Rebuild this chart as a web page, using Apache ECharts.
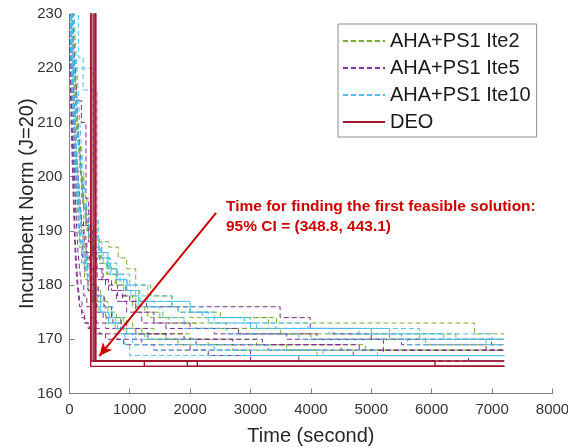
<!DOCTYPE html>
<html>
<head>
<meta charset="utf-8">
<script src="https://cdn.jsdelivr.net/npm/echarts@6/dist/echarts.min.js"></script>
<style>
html,body{margin:0;padding:0;background:#fff;}
#chart{width:568px;height:447px;}
</style>
</head>
<body>
<div id="chart"></div>
<script>
// ---- data (time in seconds, incumbent norm), step functions ----
const seriesNames = ['AHA+PS1 Ite2', 'AHA+PS1 Ite5', 'AHA+PS1 Ite10', 'DEO'];

const ite2Runs = [
  [[0,240],[40,228],[70,220],[100,213],[130,207],[165,201],[200,196],[240,192],[290,190],[360,189],[480,188],[650,187],[810,185],[950,183],[1100,180],[1350,178],[1700,176],[2000,174],[3430,173],[6710,171],[7200,171]],
  [[0,240],[60,226],[90,219],[120,212],[150,206],[185,200],[220,195],[265,191],[320,188],[400,186],[500,184],[620,182],[760,180],[900,178],[1050,176],[1250,175],[1550,174],[1900,173],[2600,172],[3500,171],[5300,170],[7200,170]],
  [[0,240],[20,226],[45,218],[70,211],[95,205],[125,199],[155,194],[190,190],[230,187],[280,184],[340,181],[420,179],[520,177],[640,175],[780,174],[950,172],[1200,171],[1600,170],[2300,169],[3600,168],[7200,168]],
  [[0,240],[80,225],[110,218],[140,211],[170,205],[200,200],[240,196],[290,193],[350,190],[430,187],[530,185],[660,183],[800,181],[950,179],[1150,177],[1400,176],[1800,175],[2500,174],[3300,172],[5000,171],[6400,170],[7200,170]],
  [[0,240],[30,222],[55,215],[80,209],[105,203],[135,198],[165,193],[200,189],[245,186],[300,183],[370,180],[460,178],[570,176],[700,174],[850,173],[1050,172],[1400,171],[2000,170],[3100,169],[4900,168],[7200,168]],
  [[0,240],[50,229],[75,222],[100,215],[130,209],[160,204],[195,199],[235,195],[280,191],[340,188],[420,186],[520,184],[640,182],[780,180],[930,178],[1100,176],[1300,174],[1650,173],[2100,172],[2800,171],[4000,170],[5900,169],[7200,169]],
  [[0,240],[10,224],[30,216],[50,209],[75,202],[100,196],[130,191],[165,187],[205,184],[250,181],[310,179],[390,177],[490,175],[610,173],[760,172],[950,171],[1250,170],[1800,169],[2700,168],[4100,167],[7200,167]]
];

const ite5Runs = [
  [[0,240],[30,228],[50,222],[70,217],[90,212],[110,207],[130,203],[155,199],[180,195],[210,191],[245,188],[290,185],[360,183],[460,181],[600,180],[800,178],[1000,177],[1280,176],[3490,174],[3990,172],[4370,171],[5000,170],[6990,169],[7200,169]],
  [[0,240],[10,226],[25,219],[40,212],[55,205],[70,199],[85,193],[100,188],[120,184],[145,180],[175,177],[210,175],[250,173],[310,172],[500,171],[800,170],[1200,169],[2000,168],[3000,166],[7200,166]],
  [[0,240],[20,229],[40,223],[60,218],[80,213],[100,208],[120,204],[145,200],[170,196],[200,192],[235,189],[275,186],[330,183],[400,180],[480,178],[580,176],[700,174],[860,172],[1100,171],[1600,170],[2700,169],[4500,168],[7200,168]],
  [[0,240],[40,230],[60,225],[80,221],[100,218],[130,214],[200,210],[276,196],[320,190],[380,186],[450,183],[540,181],[650,179],[780,177],[950,175],[1200,173],[1600,172],[2400,171],[3600,170],[5200,167],[6610,166],[7200,166]],
  [[0,240],[15,228],[30,222],[45,216],[60,210],[75,204],[90,199],[105,194],[125,190],[145,186],[170,183],[200,180],[240,178],[290,176],[360,174],[450,173],[600,172],[900,171],[1300,170],[2100,169],[3300,168],[4700,167],[7200,167]],
  [[0,240],[60,228],[80,223],[100,219],[120,214],[140,210],[165,206],[190,202],[215,198],[245,194],[280,191],[320,188],[380,185],[460,183],[560,181],[700,179],[880,177],[1100,175],[1400,173],[2000,172],[2800,171],[4100,170],[5500,169],[6900,168],[7200,168]],
  [[0,240],[5,222],[20,215],[35,208],[50,202],[65,196],[80,191],[95,186],[115,182],[140,179],[170,176],[205,174],[260,173],[330,172],[420,171],[600,170],[900,169],[1400,168],[2300,167],[3800,166],[7200,166]],
  [[0,240],[25,224],[45,218],[65,212],[85,206],[105,201],[130,196],[155,192],[185,188],[220,185],[260,182],[310,179],[370,177],[450,175],[560,174],[720,173],[950,172],[1300,171],[1900,170],[3200,169],[4800,168],[7200,168]]
];

const ite10Runs = [
  [[0,240],[25,229],[45,224],[65,219],[85,214],[105,209],[125,204],[150,199],[175,195],[200,191],[230,187],[270,184],[330,181],[420,178],[520,175],[650,173],[800,171],[920,169],[1000,167],[7200,167]],
  [[0,240],[40,230],[60,226],[80,221],[100,217],[125,212],[150,207],[175,203],[200,200],[230,196],[260,193],[300,190],[360,188],[440,186],[560,184],[700,182],[900,180],[1100,177],[2000,175],[2400,173],[3420,172],[4800,171],[6200,170],[7200,170]],
  [[0,240],[60,220],[394,200],[430,192],[480,187],[520,186],[640,183],[800,181],[950,179],[1170,177],[2000,175],[2300,174],[3000,172],[5300,171],[7000,170],[7200,170]],
  [[0,240],[20,228],[35,223],[55,217],[75,212],[95,207],[115,202],[135,197],[160,193],[185,189],[215,186],[250,183],[300,180],[370,178],[470,176],[600,174],[760,172],[950,171],[1300,170],[2100,169],[3300,168],[5100,167],[7200,167]],
  [[0,240],[50,227],[70,223],[90,219],[110,215],[135,210],[160,206],[185,202],[210,199],[240,195],[275,192],[320,189],[380,187],[480,185],[620,183],[780,181],[960,179],[1150,176],[1500,174],[1900,172],[2600,171],[3800,170],[5600,169],[7200,169]],
  [[0,240],[15,226],[30,220],[50,214],[70,208],[90,203],[110,198],[135,194],[160,190],[190,187],[230,184],[280,182],[350,180],[440,178],[560,176],[720,174],[900,172],[1100,170],[1500,169],[2400,168],[4200,167],[7200,167]],
  [[0,240],[80,230],[100,225],[120,221],[140,217],[160,213],[180,209],[205,205],[230,201],[260,197],[290,194],[330,191],[400,189],[500,186],[640,184],[790,182],[1000,180],[1300,178],[1700,176],[2200,174],[2900,173],[3950,172],[5800,170],[6900,169],[7200,169]],
  [[0,240],[35,225],[55,219],[75,213],[95,208],[120,203],[145,198],[170,194],[200,190],[235,186],[280,183],[340,180],[420,177],[520,175],[660,173],[850,171],[1050,169],[1400,168],[2900,167],[7200,167]],
  [[0,240],[150,222],[228,216],[460,188],[540,185],[680,182],[840,180],[1020,178],[1300,176],[1800,175],[2300,173],[3100,172],[4300,171],[5500,170],[7200,170]]
];

const deoRuns = [
  [[354,240],[354,165],[7200,165]],
  [[361,240],[361,166],[1243,165],[7200,165]],
  [[395,240],[395,166],[7200,166]],
  [[425,240],[425,166],[1954,165],[7200,165]],
  [[432,240],[432,166],[2119,165],[7200,165]],
  [[440,240],[440,166],[6055,165],[7200,165]]
];

// annotation arrow (data coordinates) and text
const arrowFrom = [2430, 193.3];
const arrowTo = [497, 166.9];
const noteLines = ['Time for finding the first feasible solution:', '95% CI = (348.8, 443.1)'];

const colors = ['#77AC30', '#7E2F8E', '#4DBEEE', '#A2142F'];

// ---- build options ----
const series = [];
function addRuns(runs, name, color, dashed, width) {
  runs.forEach(function (run) {
    series.push({
      type: 'line',
      name: name,
      data: run,
      step: 'end',
      symbol: 'none',
      legendIcon: 'none',
      silent: true,
      clip: true,
      lineStyle: { color: color, width: width, type: dashed ? [5, 3] : 'solid' },
      itemStyle: { color: color },
      z: dashed ? 2 : 3
    });
  });
}
addRuns(ite2Runs, seriesNames[0], colors[0], true, 1);
addRuns(ite5Runs, seriesNames[1], colors[1], true, 1);
addRuns(ite10Runs, seriesNames[2], colors[2], true, 1);
addRuns(deoRuns, seriesNames[3], colors[3], false, 1.4);

// arrow as markLine on an empty helper series
series.push({
  type: 'line',
  name: 'arrow',
  data: [],
  silent: true,
  markLine: {
    silent: true,
    animation: false,
    symbol: ['none', 'arrow'],
    symbolSize: [9, 13],
    label: { show: false },
    lineStyle: { color: '#CC0000', width: 2, type: 'solid' },
    data: [[{ coord: arrowFrom }, { coord: arrowTo }]]
  },
  z: 5
});

const chart = echarts.init(document.getElementById('chart'), null, { renderer: 'canvas' });
const fontFam = '"Liberation Sans", Arial, Helvetica, sans-serif';
chart.setOption({
  animation: false,
  backgroundColor: '#ffffff',
  grid: { left: 69.3, right: 15.5, top: 14, bottom: 53.5, containLabel: false, outerBoundsMode: 'none' },
  xAxis: {
    type: 'value', min: 0, max: 8000, interval: 1000,
    name: 'Time (second)', nameLocation: 'middle', nameGap: 33, nameMoveOverlap: false,
    nameTextStyle: { fontSize: 20, color: '#262626', fontFamily: fontFam },
    axisLine: { show: true, lineStyle: { color: '#808080', width: 1 } },
    axisTick: { show: true, inside: true, length: 5, lineStyle: { color: '#808080' } },
    axisLabel: { fontSize: 15, color: '#333333', margin: 9, fontFamily: fontFam,
      formatter: function (v) { return String(v); } },
    splitLine: { show: false }
  },
  yAxis: {
    type: 'value', min: 160, max: 230, interval: 10,
    name: 'Incumbent Norm (J=20)', nameLocation: 'middle', nameGap: 32, nameMoveOverlap: false,
    nameTextStyle: { fontSize: 20, color: '#262626', fontFamily: fontFam },
    axisLine: { show: true, lineStyle: { color: '#808080', width: 1 } },
    axisTick: { show: true, inside: true, length: 5, lineStyle: { color: '#808080' } },
    axisLabel: { fontSize: 15, color: '#333333', margin: 7, fontFamily: fontFam,
      formatter: function (v) { return String(v); } },
    splitLine: { show: false }
  },
  legend: {
    data: seriesNames,
    orient: 'vertical',
    left: 338, top: 24,
    padding: [7, 6, 5, 4],
    itemGap: 7,
    itemWidth: 42,
    itemHeight: 20,
    backgroundColor: '#ffffff',
    borderColor: '#8c8c8c',
    borderWidth: 1,
    borderRadius: 0,
    selectedMode: false,
    itemStyle: { opacity: 0 },
    textStyle: { fontSize: 20, color: '#1a1a1a', fontFamily: fontFam }
  },
  graphic: [
    { type: 'text', left: 226, top: 199, z: 10, silent: true,
      style: { text: noteLines[0], fill: '#CC0000', font: 'bold 15.5px ' + fontFam } },
    { type: 'text', left: 226, top: 219, z: 10, silent: true,
      style: { text: noteLines[1], fill: '#CC0000', font: 'bold 15.5px ' + fontFam } }
  ],
  series: series
});
</script>
</body>
</html>
